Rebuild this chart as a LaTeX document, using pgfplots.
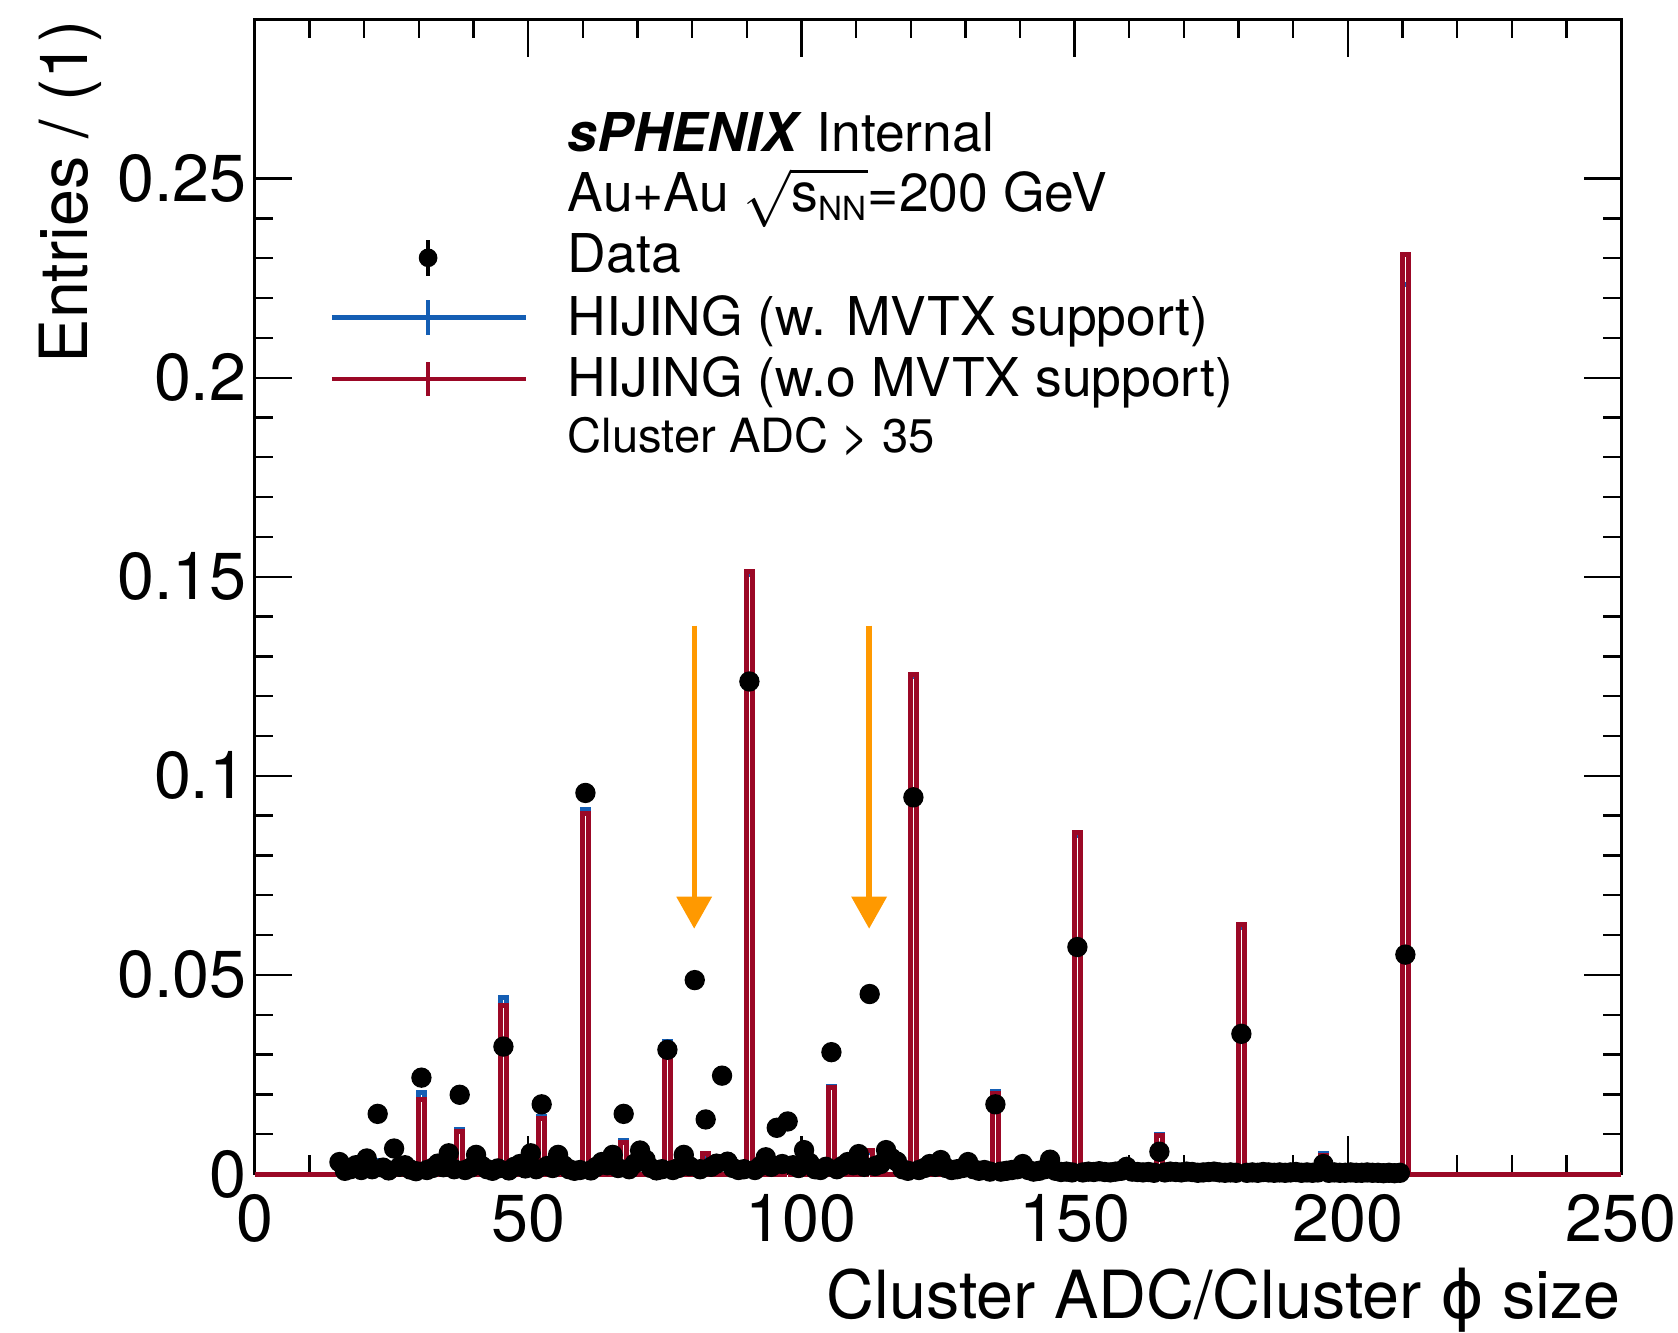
\documentclass[border=0pt]{standalone}
\usepackage{amsmath}
\usepackage{fontspec}
\setmainfont{TeX Gyre Heros}
\newfontfamily\dejavu{DejaVu Sans}
\usepackage{pgfplots}
\pgfplotsset{compat=1.18}
\usetikzlibrary{arrows.meta}
\definecolor{mcblue}{RGB}{20,94,180}
\definecolor{mcred}{RGB}{155,8,38}
\definecolor{arrorange}{RGB}{255,153,0}
\newcommand\legfont{\fontsize{16.1}{19}\selectfont}
\begin{document}
\begin{tikzpicture}
\begin{axis}[
  scale only axis, width=409.98bp, height=346.4bp,
  xmin=0, xmax=250, ymin=0, ymax=0.29,
  clip=false,
  axis line style={line width=0.8bp},
  xtick={0,50,100,150,200,250}, xticklabels={0,50,100,150,200,250},
  ytick={0,0.05,0.1,0.15,0.2,0.25}, yticklabels={0,0.05,0.1,0.15,0.2,0.25},
  minor x tick num=4, minor y tick num=4,
  major tick length=11.3bp, minor tick length=5.6bp,
  every tick/.style={black, line width=0.7bp},
  tick label style={font=\fontsize{20}{22}\selectfont},
  xticklabel style={anchor=north, inner sep=0pt, yshift=-6.0bp},
  yticklabel style={anchor=east, inner sep=0pt, xshift=-2.3bp},
  scaled ticks=false,
]
% HIJING with MVTX support (blue)
\addplot[const plot, mcblue, line width=1.5bp, mark=none] coordinates {
(0,0) (22,0.0035) (23,0) (30,0.0204) (31,0) (37,0.0113) (38,0) (45,0.0444) (46,0)
(52,0.0144) (53,0) (60,0.0915) (61,0) (67,0.0083) (68,0) (75,0.0333) (76,0)
(82,0.0045) (83,0) (90,0.1505) (91,0) (97,0.0015) (98,0) (105,0.0221) (106,0)
(112,0.0055) (113,0) (120,0.1250) (121,0) (135,0.0206) (136,0) (150,0.0850) (151,0)
(165,0.0100) (166,0) (180,0.0620) (181,0) (195,0.0052) (196,0) (210,0.2235) (211,0) (250,0)
};
% HIJING without MVTX support (red)
\addplot[const plot, mcred, line width=1.5bp, mark=none] coordinates {
(0,0) (22,0.0030) (23,0) (30,0.0186) (31,0) (37,0.0106) (38,0) (45,0.0422) (46,0)
(52,0.0140) (53,0) (60,0.0905) (61,0) (67,0.0080) (68,0) (75,0.0327) (76,0)
(82,0.0052) (83,0) (90,0.1513) (91,0) (97,0.0020) (98,0) (105,0.0217) (106,0)
(112,0.0059) (113,0) (120,0.1255) (121,0) (135,0.0202) (136,0) (150,0.0857) (151,0)
(165,0.0096) (166,0) (180,0.0626) (181,0) (195,0.0047) (196,0) (210,0.2310) (211,0) (250,0)
};
% Data
\addplot[only marks, mark=*, mark size=2.85bp, black] table {
x y
15.5 0.0030
16.5 0.0008
17.5 0.0012
18.5 0.0022
19.5 0.0010
20.5 0.0039
21.5 0.0012
22.5 0.0151
23.5 0.0016
24.5 0.0009
25.5 0.0064
26.5 0.0018
27.5 0.0022
28.5 0.0011
29.5 0.0007
30.5 0.0242
31.5 0.0010
32.5 0.0015
33.5 0.0026
34.5 0.0017
35.5 0.0052
36.5 0.0012
37.5 0.0199
38.5 0.0010
39.5 0.0016
40.5 0.0048
41.5 0.0021
42.5 0.0012
43.5 0.0008
44.5 0.0014
45.5 0.0320
46.5 0.0009
47.5 0.0018
48.5 0.0025
49.5 0.0014
50.5 0.0052
51.5 0.0012
52.5 0.0175
53.5 0.0020
54.5 0.0015
55.5 0.0048
56.5 0.0022
57.5 0.0012
58.5 0.0008
59.5 0.0010
60.5 0.0957
61.5 0.0009
62.5 0.0018
63.5 0.0030
64.5 0.0022
65.5 0.0048
66.5 0.0015
67.5 0.0151
68.5 0.0012
69.5 0.0026
70.5 0.0059
71.5 0.0036
72.5 0.0015
73.5 0.0009
74.5 0.0012
75.5 0.0312
76.5 0.0010
77.5 0.0015
78.5 0.0048
79.5 0.0020
80.5 0.0487
81.5 0.0012
82.5 0.0137
83.5 0.0018
84.5 0.0026
85.5 0.0247
86.5 0.0031
87.5 0.0015
88.5 0.0010
89.5 0.0012
90.5 0.1237
91.5 0.0010
92.5 0.0020
93.5 0.0042
94.5 0.0018
95.5 0.0116
96.5 0.0025
97.5 0.0132
98.5 0.0022
99.5 0.0015
100.5 0.0060
101.5 0.0028
102.5 0.0012
103.5 0.0010
104.5 0.0018
105.5 0.0306
106.5 0.0012
107.5 0.0020
108.5 0.0030
109.5 0.0022
110.5 0.0050
111.5 0.0018
112.5 0.0452
113.5 0.0020
114.5 0.0025
115.5 0.0060
116.5 0.0040
117.5 0.0031
118.5 0.0012
119.5 0.0008
120.5 0.0946
121.5 0.0010
122.5 0.0015
123.5 0.0025
124.5 0.0018
125.5 0.0035
126.5 0.0015
127.5 0.0010
128.5 0.0012
129.5 0.0015
130.5 0.0030
131.5 0.0012
132.5 0.0008
133.5 0.0010
134.5 0.0006
135.5 0.0175
136.5 0.0006
137.5 0.0008
138.5 0.0010
139.5 0.0012
140.5 0.0025
141.5 0.0010
142.5 0.0006
143.5 0.0008
144.5 0.0012
145.5 0.0036
146.5 0.0008
147.5 0.0005
148.5 0.0006
149.5 0.0004
150.5 0.0570
151.5 0.0004
152.5 0.0006
153.5 0.0005
154.5 0.0007
155.5 0.0005
156.5 0.0004
157.5 0.0006
158.5 0.0008
159.5 0.0018
160.5 0.0006
161.5 0.0005
162.5 0.0004
163.5 0.0005
164.5 0.0003
165.5 0.0056
166.5 0.0004
167.5 0.0006
168.5 0.0005
169.5 0.0004
170.5 0.0006
171.5 0.0005
172.5 0.0003
173.5 0.0004
174.5 0.0005
175.5 0.0006
176.5 0.0004
177.5 0.0003
178.5 0.0004
179.5 0.0003
180.5 0.0352
181.5 0.0003
182.5 0.0004
183.5 0.0003
184.5 0.0005
185.5 0.0004
186.5 0.0003
187.5 0.0004
188.5 0.0003
189.5 0.0004
190.5 0.0005
191.5 0.0003
192.5 0.0004
193.5 0.0003
194.5 0.0004
195.5 0.0025
196.5 0.0003
197.5 0.0004
198.5 0.0003
199.5 0.0003
200.5 0.0004
201.5 0.0003
202.5 0.0003
203.5 0.0004
204.5 0.0003
205.5 0.0003
206.5 0.0002
207.5 0.0003
208.5 0.0002
209.5 0.0003
210.5 0.0551
};
% orange arrows
\addplot[arrorange, line width=1.6bp, -{Triangle[length=9.6bp,width=10.3bp]}] coordinates {(80.4,0.1377) (80.4,0.0616)};
\addplot[arrorange, line width=1.6bp, -{Triangle[length=9.6bp,width=10.3bp]}] coordinates {(112.4,0.1377) (112.4,0.0616)};
% legend markers
\addplot[only marks, mark=*, mark size=2.6bp, black,
  error bars/.cd, y dir=both, y explicit, error mark=none,
  error bar style={line width=1.3bp, black}] coordinates {(31.72,0.2301) +- (0,0.0046)};
\addplot[mcblue, line width=1.3bp] coordinates {(14.10,0.2151) (49.54,0.2151)};
\addplot[mcblue, line width=1.3bp] coordinates {(31.72,0.2108) (31.72,0.2194)};
\addplot[mcred, line width=1.3bp] coordinates {(14.10,0.1997) (49.54,0.1997)};
\addplot[mcred, line width=1.3bp] coordinates {(31.72,0.1954) (31.72,0.2040)};
% texts
\node[anchor=base west, inner sep=0pt, font=\legfont] at (axis cs:57.17,0.2567) {\textbf{\textit{sPHENIX}} Internal};
\node[anchor=base west, inner sep=0pt, font=\legfont] at (axis cs:57.17,0.2417) {Au+Au \smash{$\sqrt{\text{s}_{\text{\fontsize{10}{11}\selectfont NN}}}$}=200 GeV};
\node[anchor=base west, inner sep=0pt, font=\legfont] at (axis cs:57.17,0.2264) {Data};
\node[anchor=base west, inner sep=0pt, font=\legfont] at (axis cs:57.17,0.2105) {HIJING (w. MVTX support)};
\node[anchor=base west, inner sep=0pt, font=\legfont] at (axis cs:57.17,0.1952) {HIJING (w.o MVTX support)};
\node[anchor=base west, inner sep=0pt, font=\fontsize{14.2}{17}\selectfont] at (axis cs:57.17,0.1812) {Cluster ADC > 35};
% axis titles
\node[anchor=base east, inner sep=0pt, font=\fontsize{20}{22}\selectfont] at ([yshift=-43.35bp]rel axis cs:1,0) {Cluster ADC/Cluster {\dejavu ϕ} size};
\node[anchor=base east, inner sep=0pt, rotate=90, font=\fontsize{20}{22}\selectfont] at ([xshift=-50.1bp]rel axis cs:0,1) {Entries / (1)};
\end{axis}
\pgfresetboundingbox
\path (-76.41bp,-47.4bp) rectangle (426.99bp,352.2bp);
\end{tikzpicture}
\end{document}
